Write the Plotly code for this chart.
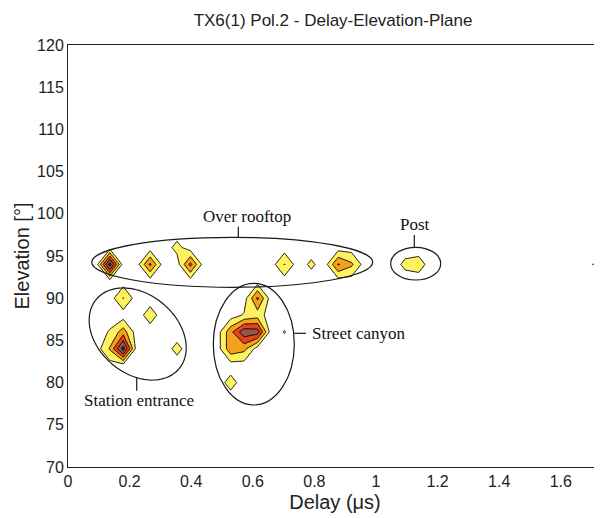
import numpy as np
import plotly.graph_objects as go

# ---------------- data ----------------
# peak (delay [us], elevation [deg], power level) samples of the PDP map
peak_delay = [0.136, 0.267, 0.397, 0.354, 0.703, 0.790, 0.877, 0.921, 1.095, 1.139, 1.705,
              0.179, 0.267, 0.179, 0.179, 0.136, 0.136, 0.354,
              0.615, 0.615, 0.572, 0.615, 0.528, 0.528, 0.572, 0.572, 0.703, 0.528]
peak_elev = [94, 94, 94, 96, 94, 94, 94, 94, 94, 94, 94,
             90, 88, 84, 86, 84, 86, 84,
             90, 88, 86, 86, 86, 84, 84, 88, 86, 80]
peak_power = [5.0, 2.7, 2.8, 0.8, 1.55, 0.7, 2.6, 1.7, 0.75, 0.95, 0.52,
              1.55, 1.0, 5.0, 2.0, 1.6, 0.6, 0.8,
              2.7, 1.0, 4.2, 4.0, 2.2, 2.2, 1.8, 0.6, 0.55, 0.9]

contour_levels = [0.5, 1.5, 2.5, 3.5, 4.5]
band_colors = ["#ffffff", "#fef25e", "#f6a11c", "#e9401d", "#8f5848", "#2b2b2b"]

x_tickvals = [0, 0.2, 0.4, 0.6, 0.8, 1.0, 1.2, 1.4, 1.6]
x_ticktext = ["0", "0.2", "0.4", "0.6", "0.8", "1", "1.2", "1.4", "1.6"]
y_tickvals = [70, 75, 80, 85, 90, 95, 100, 105, 110, 115, 120]

# ---------------- sampling grid of the map ----------------
delay_step, delay_offset = 0.0436, 0.005
delay_grid = delay_offset + delay_step * np.arange(41)
elev_grid = np.arange(68, 124, 2)
z = np.zeros((len(elev_grid), len(delay_grid)))
for d, e, p in zip(peak_delay, peak_elev, peak_power):
    i = int(np.argmin(np.abs(elev_grid - e)))
    j = int(np.argmin(np.abs(delay_grid - d)))
    z[i, j] = p

# ---------------- layout geometry ----------------
# the page body has an 8 px margin, so the figure is drawn 8 px right/down
OFF = 8
W, H = 602 - OFF, 518 - OFF
ML, MR, MT, MB = 68 - OFF, 0, 45 - OFF, 51
XPX = 308.0                      # pixels per microsecond
XMAX = (W - ML - MR) / XPX
YMIN, YMAX = 70, 120
YPX = (H - MT - MB) / (YMAX - YMIN)


# helpers: screen pixel (in the 602x518 picture) -> data coordinates
def px2x(px):
    return (px - OFF - ML) / XPX


def px2y(py):
    return YMIN + (H - MB - (py - OFF)) / YPX


nlev = len(contour_levels)
cscale = [[k / nlev, c] for k, c in enumerate(band_colors)]

fig = go.Figure()
fig.add_trace(go.Contour(
    x=delay_grid, y=elev_grid, z=z,
    autocontour=False,
    contours=dict(start=contour_levels[0], end=contour_levels[-1],
                  size=contour_levels[1] - contour_levels[0],
                  coloring="fill", showlines=True),
    colorscale=cscale, showscale=False,
    line=dict(color="black", width=0.9, smoothing=0),
    hoverinfo="skip",
))

shapes = []
ell_line = dict(color="#1a1a1a", width=1.2)


def ellipse_box(x0p, x1p, y0p, y1p):
    shapes.append(dict(type="circle", xref="x", yref="y",
                       x0=px2x(x0p), x1=px2x(x1p), y0=px2y(y1p), y1=px2y(y0p),
                       line=ell_line, layer="above"))


def seg(x0p, y0p, x1p, y1p):
    shapes.append(dict(type="line", xref="x", yref="y",
                       x0=px2x(x0p), y0=px2y(y0p), x1=px2x(x1p), y1=px2y(y1p),
                       line=ell_line, layer="above"))


# Over rooftop
ellipse_box(91.7, 372.7, 237.3, 287.3)
seg(238.3, 226.7, 238.3, 237.3)
# Post
ellipse_box(390.7, 440.7, 247.3, 280.0)
seg(414.3, 235.0, 414.3, 247.3)
# Street canyon
ellipse_box(213.3, 294.3, 283.3, 405.0)
seg(294.3, 333.3, 306.0, 333.3)

# Station entrance (tilted ellipse)
cx, cy, a, b, th = 137.7, 334.0, 54.0, 39.5, np.radians(40)
t = np.linspace(0, 2 * np.pi, 121)
ex = cx + a * np.cos(t) * np.cos(th) - b * np.sin(t) * np.sin(th)
ey = cy + a * np.cos(t) * np.sin(th) + b * np.sin(t) * np.cos(th)
path = "M " + " L ".join(f"{px2x(u):.5f},{px2y(v):.4f}" for u, v in zip(ex, ey)) + " Z"
shapes.append(dict(type="path", xref="x", yref="y", path=path, line=ell_line, layer="above"))
conn_x = 136.7
below = ey > cy
k = np.argmin(np.abs(ex[below] - conn_x))
seg(conn_x, ey[below][k], conn_x, 390.7)

serif = dict(family="Liberation Serif, Times New Roman, serif", size=17, color="#111111")
annotations = [
    dict(text="Over rooftop", x=px2x(246.5), y=px2y(216.7), xanchor="center", yanchor="middle"),
    dict(text="Post", x=px2x(415.0), y=px2y(224.0), xanchor="center", yanchor="middle"),
    dict(text="Street canyon", x=px2x(310.0), y=px2y(333.3), xanchor="left", yanchor="middle"),
    dict(text="Station entrance", x=px2x(139.3), y=px2y(400.7), xanchor="center", yanchor="middle"),
]
for an in annotations:
    an.update(xref="x", yref="y", showarrow=False, font=serif)

sans = "Liberation Sans, Arial, sans-serif"
fig.update_layout(
    width=W, height=H,
    margin=dict(l=ML, r=MR, t=MT, b=MB, pad=0),
    paper_bgcolor="white", plot_bgcolor="white",
    font=dict(family=sans, size=16, color="#222222"),
    title=dict(text="TX6(1) Pol.2 - Delay-Elevation-Plane", x=(333 - OFF) / W,
               xref="container", xanchor="center", y=1 - (20 - OFF) / H, yref="container",
               yanchor="middle", font=dict(family=sans, size=17, color="#222222")),
    xaxis=dict(range=[0, XMAX], tickvals=x_tickvals, ticktext=x_ticktext, ticks="",
               showgrid=False, zeroline=False, showline=True, linecolor="#222222",
               linewidth=1, mirror=True,
               title=dict(text="Delay (\u03bcs)", standoff=5, font=dict(size=20))),
    yaxis=dict(range=[YMIN, YMAX], tickvals=y_tickvals, ticks="",
               showgrid=False, zeroline=False, showline=True, linecolor="#222222",
               linewidth=1,
               title=dict(text="Elevation [\u00b0]", standoff=2, font=dict(size=20))),
    shapes=shapes, annotations=annotations, showlegend=False,
)

fig.write_html("out.html")
